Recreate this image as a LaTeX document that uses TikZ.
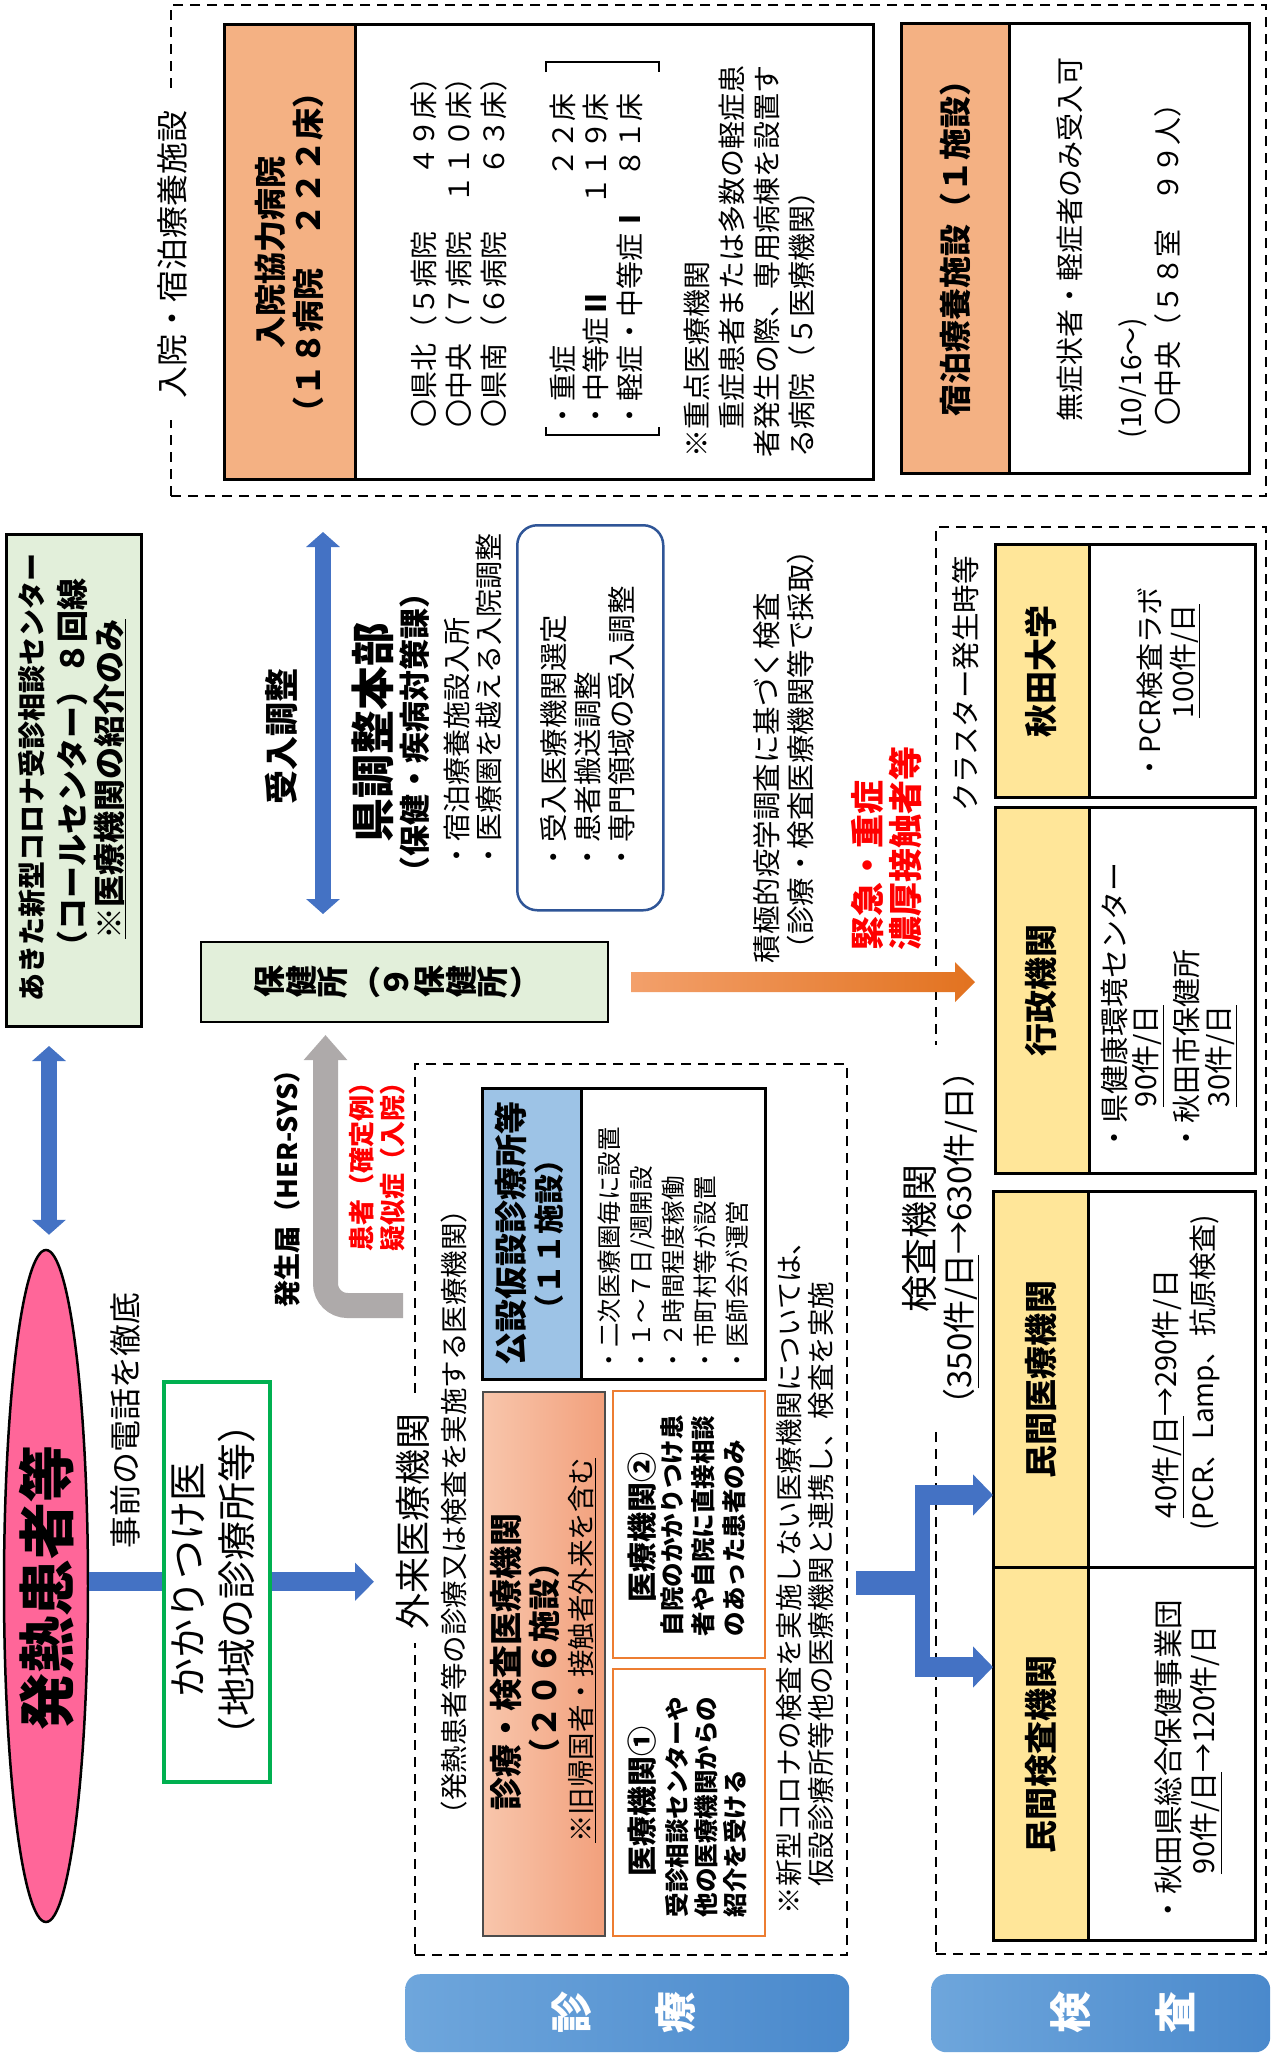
\documentclass[tikz,border=0pt]{standalone}
\usepackage{fontspec}
\setmainfont{Noto Sans CJK JP}
\usepackage{graphicx}
\usetikzlibrary{shapes.geometric,arrows.meta,calc}
\definecolor{blueC}{HTML}{4472C4}
\definecolor{orgF}{HTML}{F4B183}
\definecolor{grnF}{HTML}{E2EFDA}
\definecolor{ylwF}{HTML}{FFE699}
\definecolor{lbF}{HTML}{9DC3E6}
\definecolor{pinkF}{HTML}{FF6699}
\definecolor{grayA}{HTML}{AEAAAA}
\definecolor{greenB}{HTML}{00B050}
\definecolor{navyB}{HTML}{2F5597}
\definecolor{orL}{HTML}{F3A06B}
\definecolor{orR}{HTML}{E2721F}
\definecolor{orBd}{HTML}{ED7D31}
\definecolor{salA}{HTML}{F8C6AC}
\definecolor{salB}{HTML}{F2A07C}
\definecolor{labA}{HTML}{6EA6DC}
\definecolor{labB}{HTML}{4A89CC}
\definecolor{redT}{HTML}{FF0000}
\newcommand\fs[2]{\fontsize{#1}{#2}\selectfont}
\newcommand\rg[1]{\makebox[1em][c]{\rotatebox[origin=c]{90}{#1}}}
\newcommand\mkbox[6]{\node[#6,anchor=north west,minimum width={(#4-#2)*1pt},minimum height={(#5-#3)*1pt}] (#1) at (#2,#3) {};}
\tikzset{
  bx/.style={draw=black,line width=3pt,inner sep=0pt,outer sep=0pt},
  dbox/.style={draw=black,line width=2.8pt,dash pattern=on 10pt off 7pt,inner sep=0pt,outer sep=0pt},
  tx/.style={rotate=90,inner sep=0pt,outer sep=0pt,align=left},
  tc/.style={rotate=90,inner sep=0pt,outer sep=0pt,align=center},
  bluedbl/.style={draw=blueC,line width=16pt,{Triangle[width=33pt,length=15pt]}-{Triangle[width=33pt,length=15pt]}},
  bluearr/.style={draw=blueC,line width=19pt,-{Triangle[width=37pt,length=19pt]}},
  bluebar/.style={draw=blueC,line width=19pt},
  branch/.style={draw=blueC,line width=20pt,-{Triangle[width=40pt,length=20pt]}},
  grayarr/.style={draw=grayA,line width=25pt,rounded corners=22pt,-{Triangle[width=42pt,length=25pt]}},
  lab/.style={rounded corners=15pt,left color=labA,right color=labB,draw=none,inner sep=0pt}
}
\begin{document}
\begin{tikzpicture}[x=1pt,y=-1pt]
\useasboundingbox (0,0) rectangle (1272,2056);
\fill[white] (0,0) rectangle (1272,2056);

% ---------- containers and boxes ----------
\mkbox{inpat}{171}{5}{1266}{496}{dbox}
\mkbox{hospH}{224}{24}{355}{479}{bx,fill=orgF}
\mkbox{hospB}{355}{24}{873}{479}{bx}
\mkbox{hotelH}{901}{23}{1009}{473}{bx,fill=orgF}
\mkbox{hotelB}{1009}{23}{1249}{473}{bx}
\mkbox{akita}{6}{534}{141}{1026}{bx,fill=grnF}
\mkbox{kyoku}{516}{524}{662}{909}{draw=navyB,line width=2.5pt,rounded corners=20pt}
\mkbox{hoken}{201}{942}{608}{1022}{bx,line width=2.5pt,fill=grnF}
\mkbox{kakari}{162}{1380}{268}{1780}{draw=greenB,line width=3.5pt,fill=white}
\mkbox{gairai}{415}{1064}{847}{1955}{dbox}
\mkbox{kouH}{482}{1088}{581}{1379}{bx,fill=lbF}
\mkbox{kouB}{581}{1088}{765}{1379}{bx}
\mkbox{shinH}{482}{1391}{604}{1935}{draw=black!70,line width=1.5pt,left color=salA,right color=salB}
\mkbox{iryoB}{612}{1390}{764}{1657}{draw=orBd,line width=1.5pt}
\mkbox{iryoA}{612}{1668}{764}{1935}{draw=orBd,line width=1.5pt}
\mkbox{kensa}{936}{527}{1266}{1954}{dbox}
\fill[white] (926,1045) rectangle (946,1426);
\mkbox{akiH}{995}{544}{1089}{797}{bx,fill=ylwF}
\mkbox{akiB}{1089}{544}{1255}{797}{bx}
\mkbox{gyoH}{995}{807}{1089}{1173}{bx,fill=ylwF}
\mkbox{gyoB}{1089}{807}{1255}{1173}{bx}
\mkbox{minI}{993}{1191}{1088}{1567}{bx,fill=ylwF}
\mkbox{minIB}{1088}{1191}{1255}{1567}{bx}
\mkbox{minK}{993}{1567}{1088}{1940}{bx,fill=ylwF}
\mkbox{minKB}{1088}{1567}{1255}{1940}{bx}
\mkbox{labS}{405}{1974}{849}{2052}{lab}
\mkbox{labK}{931}{1974}{1270}{2052}{lab}
\node[ellipse,draw=black,line width=2.5pt,fill=pinkF,minimum width=84pt,minimum height=672pt,inner sep=0pt] (fever) at (46,1586) {};

% ---------- connectors ----------
\coordinate (akX) at (49,0);
\draw[bluedbl] ($(akita.south -| akX)+(0,20)$) -- ($(fever.north -| akX)+(0,-14)$);
\coordinate (ukX) at (323,0);
\draw[bluedbl] ($(hoken.north -| ukX)+(0,-28)$) -- ($(inpat.south -| ukX)+(0,36)$);
\draw[bluebar] (fever.east |- kakari.west) -- (kakari.west);
\draw[bluearr] (kakari.east) -- ($(gairai.west |- kakari.east)+(-41,0)$);
\coordinate (hsY) at (0,1305.5);
\coordinate (hsX) at (325.5,0);
\draw[grayarr] ($(gairai.west |- hsY)+(-12,0)$) -| ($(hoken.south -| hsX)+(0,13)$);
\shade[left color=orL,right color=orR] ($(hoken.east)+(23,-10)$) -- ++(324,0) -- ++(0,-10) -- ++(20,20) -- ++(-20,20) -- ++(0,-10) -- ++(-324,0) -- cycle;
\coordinate (fkY) at (0,1583);
\coordinate (fkEnd) at (930,1583);
\coordinate (fkTop) at (922.5,1485);
\coordinate (fkBot) at (922.5,1677);
\draw[draw=blueC,line width=24pt] ($(gairai.east |- fkY)+(9,0)$) -- (fkEnd);
\draw[draw=blueC,line width=15pt] (fkTop) -- (fkBot);
\draw[branch] ($(fkTop)+(-7.5,10)$) -- (minI.west |- 0,1495);
\draw[branch] ($(fkBot)+(-7.5,-10)$) -- (minK.west |- 0,1667);

% brackets
\draw[line width=1.3pt] (546,72) -- (546,62) -- (659,62) -- (659,72);
\draw[line width=1.3pt] (546,427) -- (546,435) -- (659,435) -- (659,427);

% ---------- texts ----------
\node[tc,fill=white,inner xsep=22pt,inner ysep=3pt,font=\fs{32}{38}] (inpatL) at (172,254) {入院・宿泊療養施設};
\node[tc,font=\bfseries\fs{32}{38}] (hospT) at (289.5,252) {入院協力病院\\（１８病院　２２２床）};
\node[tx,anchor=west,font=\fs{28}{35}] (hospLa) at (459,427) {〇県北（５病院　　４９床）\\〇中央（７病院　１１０床）\\〇県南（６病院　　６３床）};
\node[tx,anchor=west,font=\fs{28}{33.5}] (hospLb) at (596,429) {・重症　　　　　　２２床\\・中等症{\bfseries Ⅱ}　　　１１９床\\・軽症・中等症{\bfseries Ⅰ}　８１床};
\node[tx,anchor=west,font=\fs{28}{35}] (hospN) at (749.5,457) {※重点医療機関\\　重症患者または多数の軽症患\\者発生の際、専用病棟を設置す\\る病院（５医療機関）};

\node[tc,font=\bfseries\fs{32}{38}] (hotelT) at (955,240) {宿泊療養施設（１施設）};
\node[tx,anchor=west,font=\fs{28}{35}] (hotelLa) at (1070,421) {無症状者・軽症者のみ受入可};
\node[tx,anchor=west,font=\fs{28}{35}] (hotelLb) at (1133,438) {(10/16～)};
\node[tx,anchor=west,font=\fs{28}{35}] (hotelLc) at (1168,425) {〇中央（５８室　９９人）};

\node[tc,font=\bfseries\fs{28}{34}] (akitaA) at (32,777) {あきた新型コロナ受診相談センター};
\node[tc,font=\bfseries\fs{32}{38}] (akitaB) at (72,770) {（コールセンター）８回線};
\node[tc,font=\bfseries\fs{32}{38}] (akitaC) at (110,779) {\underline{※医療機関の紹介のみ}};

\node[tc,font=\bfseries\fs{34}{40}] (ukeT) at (282,736) {受入調整};
\node[tc,font=\bfseries\fs{44}{50}] (honbu) at (373,732) {県調整本部};
\node[tc,font=\bfseries\fs{31}{36}] (honbuB) at (415,732) {（保健・疾病対策課）};
\node[tx,anchor=west,font=\fs{28}{32}] (honbuL) at (473,869) {・宿泊療養施設入所\\・医療圏を越える入院調整};
\node[tx,anchor=west,font=\fs{28.5}{34}] (kyokuL) at (588,871) {・受入医療機関選定\\・患者搬送調整\\・専門領域の受入調整};
\node[font=\bfseries\fs{32}{38},inner sep=0pt] (hokenT) at (397,982) {\rg{保}\rg{健}\rg{所}（\rg{９}\rg{保}\rg{健}\rg{所}）};

\node[tx,anchor=west,font=\bfseries\fs{27}{32}] (hasseiT) at (287,1307) {発生届（HER-SYS）};
\node[tx,anchor=west,font=\bfseries\fs{26}{31},text=redT] (kanjaT) at (377.5,1251) {患者（確定例）\\疑似症（入院）};

\node[tc,font=\bfseries\fs{57}{62}] (feverT) at (47,1588) {発熱患者等};
\node[tc,font=\fs{32}{38}] (jizen) at (125,1420) {事前の電話を徹底};
\node[tc,font=\fs{39}{49}] (kakariT) at (213,1580) {かかりつけ医\\（地域の診療所等）};

\node[tc,fill=white,inner xsep=14pt,inner ysep=2pt,font=\fs{36}{40}] (gairaiL) at (413,1521) {外来医療機関};
\node[tc,font=\fs{27.5}{32}] (gairaiS) at (454,1512) {（発熱患者等の診療又は検査を実施する医療機関）};
\node[tc,font=\bfseries\fs{33}{38}] (kouT) at (511,1233) {公設仮設診療所等};
\node[tc,font=\bfseries\fs{30}{36}] (kouTb) at (549,1234) {（１１施設）};
\node[tx,anchor=west,font=\fs{24.5}{32}] (kouL) at (673,1372) {・二次医療圏毎に設置\\・１～７日/週開設\\・２時間程度稼働\\・市町村等が設置\\・医師会が運営};
\node[tc,font=\bfseries\fs{33}{38}] (shinT) at (506,1662) {診療・検査医療機関};
\node[tc,font=\bfseries\fs{32}{38}] (shinTb) at (544,1658) {（２０６施設）};
\node[tc,font=\fs{27.5}{32}] (shinTc) at (582,1650) {\underline{※旧帰国者・接触者外来を含む}};
\node[tc,font=\bfseries\fs{30}{36}] (iryoBT) at (642,1527) {医療機関②};
\node[tx,anchor=west,font=\bfseries\fs{24.5}{31}] (iryoBL) at (703,1636) {自院のかかりつけ患\\者や自院に直接相談\\のあった患者のみ};
\node[tc,font=\bfseries\fs{30}{36}] (iryoAT) at (642,1801) {医療機関①};
\node[tx,anchor=west,font=\bfseries\fs{24.5}{29}] (iryoAL) at (706,1917) {受診相談センターや\\他の医療機関からの\\紹介を受ける};
\node[tx,anchor=west,font=\fs{27.5}{32}] (gairaiN) at (805,1914) {※新型コロナの検査を実施しない医療機関については、\\　仮設診療所等他の医療機関と連携し、検査を実施};

\node[tx,anchor=west,font=\bfseries\fs{34}{38},text=redT] (kinkyu) at (887,950) {緊急・重症\\濃厚接触者等};
\node[tx,anchor=west,font=\fs{28.5}{34}] (sekkyoku) at (784,963) {積極的疫学調査に基づく検査\\（診療・検査医療機関等で採取）};
\node[tc,font=\fs{28.5}{34}] (cluster) at (966,684) {クラスター発生時等};
\node[tc,font=\fs{33}{38}] (kensaLb) at (961,1238) {（\underline{350件/日}→630件/日）};
\node[tc,font=\fs{37}{42}] (kensaLa) at (920,1238) {検査機関};

\node[tc,font=\bfseries\fs{33}{38}] (akiT) at (1041,671) {秋田大学};
\node[tx,anchor=west,font=\fs{28}{35}] (akiLa) at (1150,781) {・PCR検査ラボ};
\node[tx,anchor=west,font=\fs{28}{35}] (akiLb) at (1185,718) {\underline{100件/日}};
\node[tc,font=\bfseries\fs{33}{38}] (gyoT) at (1041,990) {行政機関};
\node[tx,anchor=west,font=\fs{29}{35}] (gyoLa) at (1115,1152) {・県健康環境センター};
\node[tx,anchor=west,font=\fs{29}{35}] (gyoLb) at (1148,1107) {\underline{90件/日}};
\node[tx,anchor=west,font=\fs{29}{35}] (gyoLc) at (1186,1152) {・秋田市保健所};
\node[tx,anchor=west,font=\fs{29}{35}] (gyoLd) at (1221,1107) {\underline{30件/日}};
\node[tc,font=\bfseries\fs{33}{38}] (minIT) at (1041,1379) {民間医療機関};
\node[tx,anchor=west,font=\fs{29}{37}] (minILa) at (1168,1518) {\underline{40件/日}→290件/日};
\node[tx,anchor=west,font=\fs{28}{37}] (minILb) at (1205,1530) {(PCR、Lamp、抗原検査)};
\node[tc,font=\bfseries\fs{33}{38}] (minKT) at (1041,1754) {民間検査機関};
\node[tx,anchor=west,font=\fs{29.5}{37}] (minKLa) at (1168,1924) {・秋田県総合保健事業団};
\node[tx,anchor=west,font=\fs{29}{37}] (minKLb) at (1206,1874) {\underline{90件/日}→120件/日};

\node[font=\bfseries\fs{42}{48},text=white,inner sep=0pt] (labSa) at (572,2012) {\rg{診}};
\node[font=\bfseries\fs{42}{48},text=white,inner sep=0pt] (labSb) at (676,2012) {\rg{療}};
\node[font=\bfseries\fs{42}{48},text=white,inner sep=0pt] (labKa) at (1071,2012) {\rg{検}};
\node[font=\bfseries\fs{42}{48},text=white,inner sep=0pt] (labKb) at (1175,2012) {\rg{査}};
\end{tikzpicture}
\end{document}
